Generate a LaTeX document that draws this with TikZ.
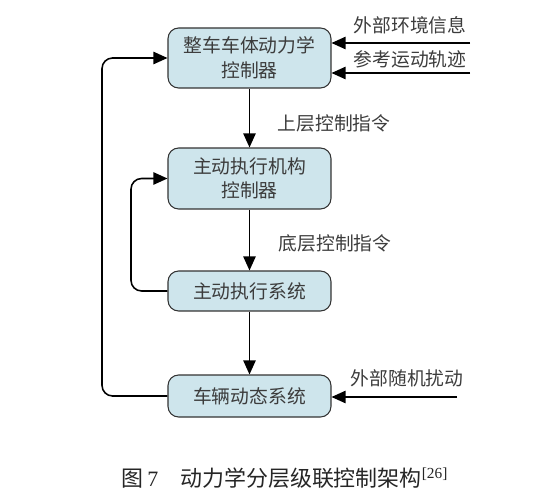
\documentclass[tikz,border=0pt]{standalone}
\usepackage{fontspec}
\setmainfont{Liberation Serif}
\newfontfamily\cjk{Noto Sans CJK SC}
\usetikzlibrary{arrows.meta,positioning}
\definecolor{boxblue}{RGB}{206,229,236}
\definecolor{txtgray}{RGB}{60,60,60}

\begin{document}
\begin{tikzpicture}[x=0.02cm,y=-0.02cm,>={Triangle[length=8pt,width=7pt]},
 font=\fontsize{10.7}{14}\selectfont\cjk,line width=0.9pt,
 blk/.style={draw=black!80,fill=boxblue,rounded corners=6pt,minimum width=3.26cm,align=center,text=txtgray,line width=0.6pt},
 lbl/.style={text=txtgray}]
\useasboundingbox (0,0) rectangle (546,499);
\node[blk,minimum height=1.2cm] (ctrl) at (249.5,58) {整车车体动力学\\控制器};
\node[blk,minimum height=1.22cm] (actctrl) at (249.5,178.5) {主动执行机构\\控制器};
\node[blk,minimum height=0.8cm] (actsys) at (249.5,291) {主动执行系统};
\node[blk,minimum height=0.84cm] (veh) at (249.5,396) {车辆动态系统};
% main chain
\draw[->] (ctrl.south) -- (actctrl.north);
\draw[->] (actctrl.south) -- (actsys.north);
\draw[->] (actsys.south) -- (veh.north);
\node[lbl] (upcmd) at (334,123) {上层控制指令};
\node[lbl] (lowcmd) at (335,243) {底层控制指令};
% inputs
\coordinate (env) at (470,43);
\coordinate (traj) at (470,73);
\coordinate (dist) at (457,397);
\draw[->] (env) -- (env -| ctrl.east);
\draw[->] (traj) -- (traj -| ctrl.east);
\draw[->] (dist) -- (dist -| veh.east);
\node[lbl] (envlbl) at (410,25) {外部环境信息};
\node[lbl] (trajlbl) at (410,59) {参考运动轨迹};
\node[lbl] (distlbl) at (407,378) {外部随机扰动};
% feedback loops
\draw[->,rounded corners=6pt] (veh.west) -- (102,396) |- (ctrl.west);
\draw[->,rounded corners=6pt] (actsys.west) -- (131,291) |- (actctrl.west);
% caption
\node[text=black!85,font=\fontsize{12.5}{15}\selectfont] (cap) at (285,478)
 {{\cjk 图}\,7\quad{\cjk 动力学分层级联控制架构}\textsuperscript{[26]}};
\end{tikzpicture}
\end{document}
